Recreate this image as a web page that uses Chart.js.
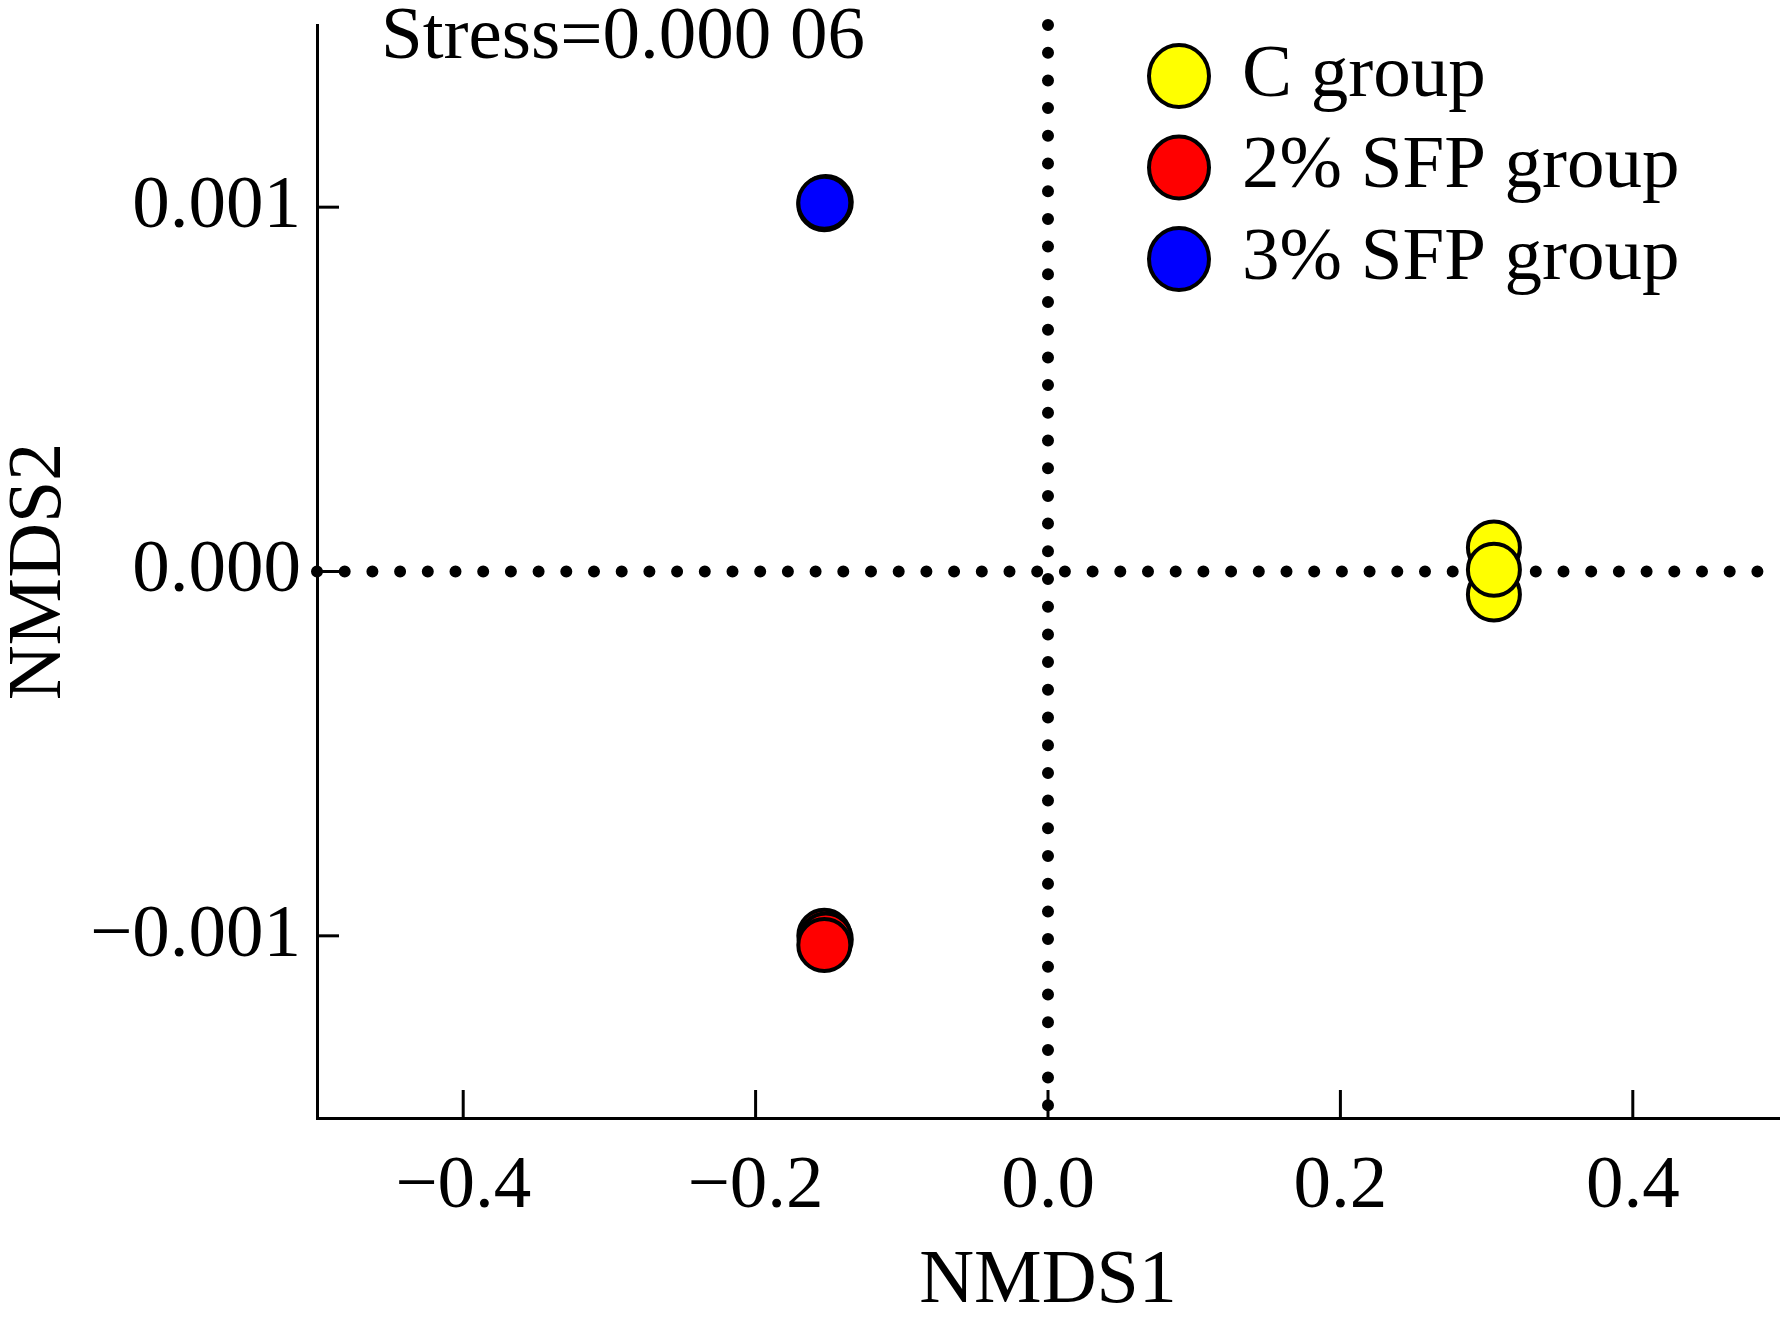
<!doctype html>
<html lang="en">
    <head>
        <meta charset="UTF-8" />
        <title>NMDS plot</title>
        <script src="https://cdn.jsdelivr.net/npm/chart.js"></script>
        <style>
            html, body { margin: 0; padding: 0; background: #fff; }
        </style>
    </head>
    <body>
        <canvas id="nmdsChart" width="1781" height="1325"></canvas>
        <script>
            // groups and their points
            var groupNames = ["C group", "2% SFP group", "3% SFP group"];
            var groupColors = ["#ffff00", "#ff0000", "#0000ff"];
            var cGroupX = [0.305, 0.305, 0.305];
            var cGroupY = [0.000066, -0.000063, 0.000005];
            var sfp2X = [-0.153, -0.152, -0.153];
            var sfp2Y = [-0.001, -0.00101, -0.001025];
            var sfp3X = [-0.153, -0.152, -0.153];
            var sfp3Y = [0.001008, 0.001014, 0.001012];
            var xTicks = [-0.4, -0.2, 0.0, 0.2, 0.4];
            var yTicks = [-0.001, 0.0, 0.001];
            var xRange = [-0.5, 0.5];
            var yRange = [-0.0015, 0.0015];
            var stressText = "Stress=0.000 06";

            var serif = "'Liberation Serif', 'Times New Roman', serif";

            function toPoints(xs, ys) {
                return xs.map(function (x, i) {
                    return { x: x, y: ys[i] };
                });
            }

            function minus(v, digits) {
                var s = Math.abs(v).toFixed(digits);
                return v < -1e-12 ? "\u2212" + s : s;
            }

            var groupData = [toPoints(cGroupX, cGroupY), toPoints(sfp2X, sfp2Y), toPoints(sfp3X, sfp3Y)];

            var datasets = groupNames.map(function (name, i) {
                return {
                    label: name,
                    type: "scatter",
                    data: groupData[i],
                    backgroundColor: groupColors[i],
                    borderColor: "#000",
                    borderWidth: 4,
                    pointRadius: 26,
                    pointHoverRadius: 26
                };
            });

            // dotted zero lines (drawn first, underneath the points)
            var dotted = {
                type: "line",
                borderColor: "#000",
                borderWidth: 12,
                borderDash: [0, 27.7],
                borderCapStyle: "round",
                pointRadius: 0,
                fill: false,
                clip: false
            };
            datasets.push(Object.assign({ label: "x0", data: [{ x: 0, y: yRange[1] }, { x: 0, y: yRange[0] }] }, dotted));
            datasets.push(Object.assign({ label: "y0", data: [{ x: xRange[0], y: 0 }, { x: xRange[1], y: 0 }] }, dotted));

            var innerTicks = {
                id: "innerTicks",
                beforeDatasetsDraw: function (chart) {
                    var ctx = chart.ctx;
                    var area = chart.chartArea;
                    var x = chart.scales.x;
                    var y = chart.scales.y;
                    ctx.save();
                    ctx.strokeStyle = "#000";
                    ctx.lineWidth = 3;
                    x.ticks.forEach(function (t) {
                        var px = x.getPixelForValue(t.value);
                        ctx.beginPath();
                        ctx.moveTo(px, area.bottom);
                        ctx.lineTo(px, area.bottom - 28);
                        ctx.stroke();
                    });
                    y.ticks.forEach(function (t) {
                        var py = y.getPixelForValue(t.value);
                        ctx.beginPath();
                        ctx.moveTo(area.left, py);
                        ctx.lineTo(area.left + 22, py);
                        ctx.stroke();
                    });
                    ctx.restore();
                }
            };

            var legendAndNote = {
                id: "legendAndNote",
                afterDraw: function (chart) {
                    var ctx = chart.ctx;
                    ctx.save();
                    ctx.font = "75px " + serif;
                    ctx.fillStyle = "#000";
                    ctx.textBaseline = "middle";
                    ctx.textAlign = "center";
                    ctx.fillText(stressText, 623, 38);

                    ctx.textAlign = "left";
                    groupNames.forEach(function (name, i) {
                        var cy = 76 + i * 91.5;
                        ctx.beginPath();
                        ctx.ellipse(1179, cy, 30, 31, 0, 0, Math.PI * 2);
                        ctx.fillStyle = groupColors[i];
                        ctx.fill();
                        ctx.lineWidth = 4;
                        ctx.strokeStyle = "#000";
                        ctx.stroke();
                        ctx.fillStyle = "#000";
                        ctx.fillText(name, 1242, cy);
                    });
                    ctx.restore();
                }
            };

            var ctxNmds = document.getElementById("nmdsChart").getContext("2d");
            var nmdsChart = new Chart(ctxNmds, {
                type: "scatter",
                data: { datasets: datasets },
                plugins: [innerTicks, legendAndNote],
                options: {
                    responsive: false,
                    animation: false,
                    devicePixelRatio: 1,
                    layout: { autoPadding: false, padding: { top: 25, right: 2, left: 0, bottom: 0 } },
                    plugins: {
                        legend: { display: false },
                        tooltip: { enabled: false }
                    },
                    scales: {
                        x: {
                            type: "linear",
                            min: xRange[0],
                            max: xRange[1],
                            afterBuildTicks: function (scale) {
                                scale.ticks = xTicks.map(function (v) {
                                    return { value: v };
                                });
                            },
                            afterFit: function (scale) {
                                scale.height = 207;
                                scale.paddingLeft = 0;
                                scale.paddingRight = 0;
                            },
                            grid: { display: false, drawTicks: false },
                            border: { display: true, color: "#000", width: 3 },
                            ticks: {
                                autoSkip: false,
                                maxRotation: 0,
                                padding: 24,
                                color: "#000",
                                font: { family: serif, size: 75 },
                                callback: function (v) {
                                    return minus(v, 1);
                                }
                            },
                            title: {
                                display: true,
                                text: "NMDS1",
                                color: "#000",
                                font: { family: serif, size: 76, lineHeight: 1 },
                                padding: { top: 0, bottom: 5 }
                            }
                        },
                        y: {
                            type: "linear",
                            min: yRange[0],
                            max: yRange[1],
                            afterBuildTicks: function (scale) {
                                scale.ticks = yTicks.map(function (v) {
                                    return { value: v };
                                });
                            },
                            afterFit: function (scale) {
                                scale.width = 317;
                                scale.paddingTop = 0;
                                scale.paddingBottom = 0;
                            },
                            grid: { display: false, drawTicks: false },
                            border: { display: true, color: "#000", width: 3 },
                            ticks: {
                                autoSkip: false,
                                padding: 16,
                                color: "#000",
                                font: { family: serif, size: 75 },
                                callback: function (v) {
                                    return minus(v, 3);
                                }
                            },
                            title: {
                                display: true,
                                text: "NMDS2",
                                color: "#000",
                                font: { family: serif, size: 76, lineHeight: 1 },
                                padding: { top: 2, bottom: 0 }
                            }
                        }
                    }
                }
            });
        </script>
    </body>
</html>
